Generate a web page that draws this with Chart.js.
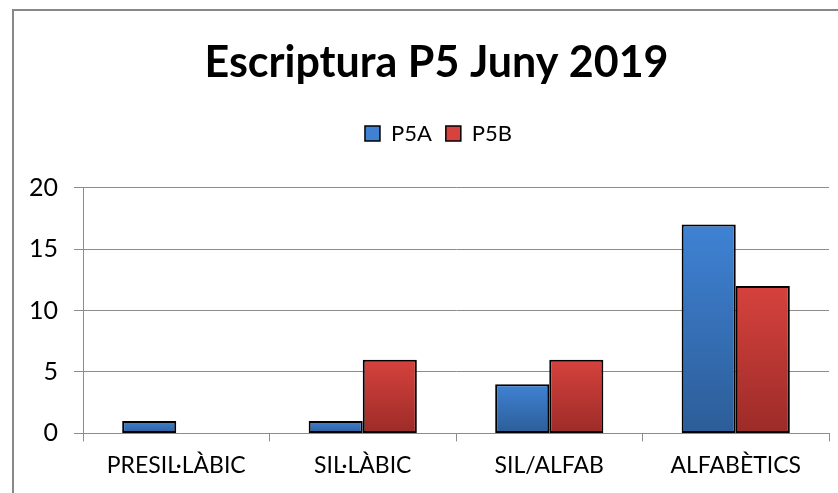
<!DOCTYPE html>
<html>
<head>
<meta charset="utf-8">
<script src="https://cdn.jsdelivr.net/npm/chart.js@4.4.1/dist/chart.umd.min.js"></script>
<style>
  html,body{margin:0;padding:0;background:#fff;}
  #wrap{position:relative;width:838px;height:493px;overflow:hidden;}
  #frame{position:absolute;left:12px;top:9px;width:840px;height:500px;border-top:2px solid #888;border-left:2px solid #888;}
  #c{position:absolute;left:0;top:0;}
</style>
</head>
<body>
<div id="wrap">
  <div id="frame"></div>
  <canvas id="c" width="838" height="493"></canvas>
</div>
<script>
/* ── DATA ─────────────────────────────────────────────── */
const categories = ['PRESIL·LÀBIC','SIL·LÀBIC','SIL/ALFAB','ALFABÈTICS'];
const seriesNames = ['P5A','P5B'];
const p5a = [1,1,4,17];
const p5b = [0,6,6,12];
const yTicks = [0,5,10,15,20];

const FONT = 'Lato, "Open Sans", sans-serif';
const BLUE  = ['#3f82d4','#2c5d98'];
const RED   = ['#d6423d','#9c2b28'];

// per-bar vertical gradient (light top -> dark bottom)
function barFill(cols){
  return function(ctx){
    const chart = ctx.chart;
    const y = chart.scales && chart.scales.y;
    if(!y || ctx.raw===undefined) return cols[0];
    const top = y.getPixelForValue(ctx.raw);
    const bot = y.getPixelForValue(0);
    if(Math.abs(bot-top)<1) return cols[0];
    const g = chart.ctx.createLinearGradient(0,top,0,bot);
    g.addColorStop(0,cols[0]);
    g.addColorStop(1,cols[1]);
    return g;
  };
}

// extra room under the legend, and centre title/legend on the framed area
const headerFix = {
  id:'headerFix',
  afterInit(chart){
    const l = chart.legend;
    const fit = l.fit.bind(l);
    l.fit = function(){ fit(); this.height += 33; };
  },
  afterLayout(chart){
    if(chart.titleBlock){ chart.titleBlock.left += 22; chart.titleBlock.right += 22; }
    if(chart.legend){ chart.legend.left += 24; chart.legend.right += 24; }
  }
};

new Chart(document.getElementById('c'),{
  type:'bar',
  data:{
    labels:categories,
    datasets:[
      { label:seriesNames[0], data:p5a, backgroundColor:barFill(BLUE), borderColor:'#000', borderWidth:2, borderSkipped:false },
      { label:seriesNames[1], data:p5b, backgroundColor:barFill(RED),  borderColor:'#000', borderWidth:2, borderSkipped:false },
    ]
  },
  plugins:[headerFix],
  options:{
    responsive:false, animation:false,
    categoryPercentage:0.58, barPercentage:1,
    layout:{padding:{left:0,right:9,top:0,bottom:4}},
    plugins:{
      title:{display:true,text:'Escriptura P5 Juny 2019',color:'#000',
        font:{family:FONT,size:43,weight:'bold'},padding:{top:37,bottom:20}},
      legend:{position:'top',
        labels:{font:{family:FONT,size:22},color:'#000',boxWidth:15,boxHeight:15,padding:14,
          generateLabels:()=>seriesNames.map((n,i)=>({text:n,fillStyle:i?RED[0]:BLUE[0],strokeStyle:'#000',lineWidth:1.5,datasetIndex:i}))}},
      tooltip:{enabled:false}
    },
    scales:{
      x:{
        grid:{drawOnChartArea:false,color:'#8c8c8c',tickLength:8,lineWidth:1},
        border:{color:'#8c8c8c',width:1},
        ticks:{font:{family:FONT,size:23},color:'#000',padding:10}
      },
      y:{
        min:0,max:20,
        afterBuildTicks:s=>{s.ticks=yTicks.map(v=>({value:v}));},
        afterFit:s=>{s.width=83;},
        grid:{color:'#8c8c8c',tickLength:9,lineWidth:1},
        border:{color:'#8c8c8c',width:1},
        ticks:{font:{family:FONT,size:25},color:'#000',padding:16}
      }
    }
  }
});
</script>
</body>
</html>
